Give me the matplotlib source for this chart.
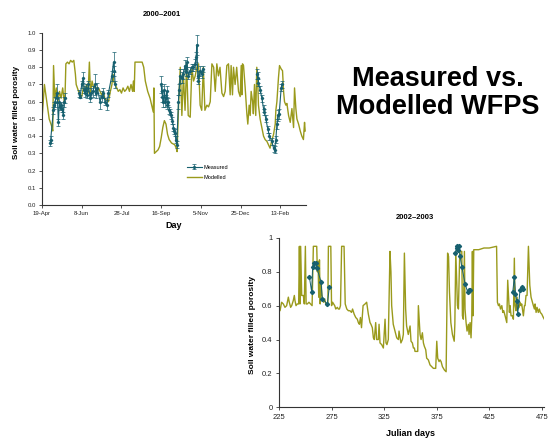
import numpy as np
import matplotlib
matplotlib.use("Agg")
import matplotlib.pyplot as plt

plt.rcParams['font.family'] = ['Liberation Sans', 'DejaVu Sans']

# ---- 2000-2001 : days since 19-Apr-2000 ----
mod1_day = [0, 3, 6, 9, 12, 13.5, 14.5, 16, 18, 20, 22, 24, 26, 28, 29, 30, 32, 34, 36, 38, 40,
            42, 43, 46, 48, 50, 52, 54, 56, 58, 59.6, 61, 63, 65, 67, 69, 71, 73, 75, 77, 79, 81,
            83.6, 86, 88, 89, 90, 92, 94, 96, 98, 100, 102, 104, 106, 108, 110, 112, 114, 115, 116,
            117, 126, 128, 130, 133, 136, 138, 140, 140.8, 141.5, 146, 148, 150, 152, 154, 156, 158,
            160, 163, 167, 169, 170, 172, 174, 176, 178, 180, 182, 184, 186.5, 188.6, 190.7, 192.8,
            194.9, 197, 199, 201, 203, 205, 207.5, 209.6, 211.7, 213.8, 216, 218, 220, 222, 224,
            226.4, 228.5, 230.5, 232.6, 234.7, 236.8, 238, 239.7, 241, 243, 245, 247.3, 249.4,
            250.7, 251.5, 252.3, 253.6, 255.7, 257.8, 259, 260.7, 262, 263.2, 265, 266, 267.4, 269,
            270.3, 271.6, 272.4, 274.5, 276.7, 278.8, 280.8, 283, 285, 287, 289, 291.4, 293.5,
            294.3, 295.6, 297.6, 298.9, 301, 302.7, 304, 305.2, 306.9, 308.2, 310.3, 312.4, 314.5,
            316.6, 317.8, 319.5, 320.8, 322.9, 325, 327, 329, 330.4, 331.2]
mod1_wfps = [0.50, 0.70, 0.60, 0.50, 0.46, 0.43, 0.81, 0.62, 0.68, 0.60, 0.66, 0.62, 0.68, 0.60, 0.64,
             0.82, 0.83, 0.82, 0.84, 0.83, 0.84, 0.76, 0.70, 0.66, 0.64, 0.63, 0.68, 0.66, 0.70, 0.65,
             0.83, 0.65, 0.72, 0.68, 0.70, 0.65, 0.68, 0.66, 0.64, 0.66, 0.62, 0.61, 0.60, 0.66, 0.70,
             0.76, 0.72, 0.70, 0.68, 0.66, 0.67, 0.65, 0.68, 0.66, 0.67, 0.69, 0.66, 0.70, 0.66, 0.72,
             0.66, 0.83, 0.83, 0.80, 0.72, 0.66, 0.62, 0.58, 0.54, 0.68, 0.30, 0.32, 0.34, 0.39, 0.45,
             0.49, 0.47, 0.41, 0.38, 0.36, 0.35, 0.33, 0.31, 0.60, 0.80, 0.52, 0.75, 0.55, 0.82, 0.52,
             0.51, 0.80, 0.72, 0.75, 0.80, 0.82, 0.58, 0.55, 0.80, 0.55, 0.58, 0.57, 0.60, 0.82, 0.80,
             0.66, 0.82, 0.75, 0.80, 0.65, 0.63, 0.66, 0.81, 0.82, 0.64, 0.81, 0.64, 0.80, 0.70, 0.80,
             0.66, 0.63, 0.81, 0.64, 0.82, 0.81, 0.68, 0.53, 0.47, 0.58, 0.52, 0.66, 0.60, 0.53, 0.70,
             0.52, 0.80, 0.70, 0.58, 0.50, 0.45, 0.40, 0.38, 0.37, 0.35, 0.33, 0.37, 0.41, 0.47, 0.55,
             0.60, 0.74, 0.81, 0.79, 0.78, 0.66, 0.60, 0.58, 0.59, 0.52, 0.48, 0.56, 0.45, 0.68, 0.56,
             0.50, 0.47, 0.43, 0.40, 0.38, 0.48, 0.43]

# measured campaigns (day, wfps, error)
meas1_day = [10, 10.9, 14.3, 15, 16.4, 18.5, 19.3, 20.6, 21.8, 22.7, 24, 25, 26.9, 27.7, 29]
meas1_wfps = [0.36, 0.38, 0.55, 0.58, 0.60, 0.65, 0.62, 0.48, 0.60, 0.57, 0.58, 0.56, 0.52, 0.60, 0.62]
meas1_err = [0.02, 0.02, 0.02, 0.02, 0.03, 0.05, 0.03, 0.02, 0.03, 0.02, 0.02, 0.02, 0.02, 0.03, 0.03]

meas2_day = [46.6, 47.9, 50, 52, 53, 54, 55.4, 57, 58.4, 60.5, 61.7, 63.8, 66.8, 68, 69.7, 73, 75,
             77, 79.4, 81.5, 83.6, 87.8, 90, 91, 92]
meas2_wfps = [0.65, 0.63, 0.70, 0.74, 0.67, 0.65, 0.68, 0.64, 0.70, 0.62, 0.65, 0.66, 0.70, 0.65,
              0.68, 0.60, 0.63, 0.65, 0.60, 0.58, 0.65, 0.75, 0.83, 0.78, 0.70]
meas2_err = [0.02, 0.01, 0.02, 0.03, 0.02, 0.02, 0.02, 0.02, 0.02, 0.02, 0.03, 0.03, 0.06, 0.03,
             0.03, 0.04, 0.03, 0.03, 0.02, 0.03, 0.02, 0.03, 0.06, 0.03, 0.02]

meas3_day = [150, 150.7, 151.6, 152.8, 154, 154.9, 155.8, 157, 157.9, 159, 160, 161.2, 162.5, 164.1,
             165.4, 166.6, 167.5, 168.3, 169.6, 171.7, 172.5, 173.8, 175.9, 178, 180, 181.4, 182.2,
             184.3, 186.4, 188.5, 190.6, 192.7, 194, 194.8, 196, 196.9, 199, 201, 202.3]
meas3_wfps = [0.70, 0.66, 0.63, 0.60, 0.67, 0.60, 0.62, 0.66, 0.58, 0.60, 0.55, 0.54, 0.52, 0.49,
              0.45, 0.43, 0.42, 0.38, 0.35, 0.60, 0.67, 0.75, 0.74, 0.76, 0.81, 0.77, 0.83, 0.75,
              0.78, 0.80, 0.80, 0.82, 0.86, 0.93, 0.75, 0.72, 0.78, 0.76, 0.79]
meas3_err = [0.05, 0.03, 0.03, 0.03, 0.03, 0.03, 0.02, 0.03, 0.02, 0.02, 0.02, 0.02, 0.02, 0.02,
             0.02, 0.02, 0.02, 0.02, 0.02, 0.04, 0.03, 0.04, 0.03, 0.03, 0.03, 0.02, 0.03, 0.02,
             0.02, 0.02, 0.02, 0.03, 0.03, 0.06, 0.03, 0.02, 0.03, 0.02, 0.02]

meas4_day = [270.3, 271.6, 272.4, 274.5, 276.7, 278.8, 280, 281.7, 284.2, 286.3, 289.2, 291.4,
             292.6, 294.3, 295.6, 296.8, 298.5, 301, 301.8]
meas4_wfps = [0.76, 0.74, 0.71, 0.67, 0.62, 0.56, 0.54, 0.50, 0.44, 0.40, 0.37, 0.33, 0.32, 0.38,
              0.47, 0.52, 0.53, 0.68, 0.70]
meas4_err = [0.03, 0.03, 0.02, 0.02, 0.02, 0.02, 0.02, 0.02, 0.02, 0.02, 0.02, 0.02, 0.02, 0.02,
             0.03, 0.03, 0.03, 0.02, 0.02]

ticks1 = [0, 50, 100, 150, 200, 250, 300]
ticklabels1 = ['19-Apr', '8-Jun', '28-Jul', '16-Sep', '5-Nov', '25-Dec', '13-Feb']

# ---- 2002-2003 : julian days (10 values per row) ----
mod2_jd = [225, 226, 227.5, 229.1, 230.7, 232.3, 233.9, 234.8, 236.1, 237.1,
           238.6, 239.6, 240.2, 241.2, 242.4, 243.7, 244.4, 245, 245.6, 246.6,
           248.2, 249.1, 250.1, 250.8, 252, 253.5, 255, 256.5, 257.7, 260.9,
           261.5, 262.2, 262.8, 263.5, 264.2, 265, 265.8, 266.6, 267.4, 268.5,
           269.5, 270.5, 271.5, 272, 274.3, 275, 276, 277, 278, 279,
           280.5, 281.5, 282.5, 283.5, 284.6, 285.4, 286.9, 288, 289.5, 291,
           292.5, 294, 295, 296.5, 298, 299.5, 300.5, 301.5, 302.5, 303.5,
           305, 306.9, 308.4, 310, 311.6, 312.5, 313.8, 314.8, 315.7, 317,
           317.9, 319.5, 320.2, 321.1, 322.7, 324.3, 325.9, 326.8, 327.7, 329,
           330.6, 331.5, 332.2, 333.7, 335.4, 337, 338.6, 339.2, 340.2, 341,
           342.4, 343.3, 344.3, 345.5, 346.4, 348, 349.7, 350.6, 351.9, 352.9,
           353.8, 354.4, 356, 357, 357.6, 358.6, 359.2, 360.2, 361.4, 362.4,
           363.3, 364.6, 365.5, 367.1, 368.7, 370.3, 371.9, 373.5, 374.1, 375.1,
           376, 377.3, 378.2, 379.2, 380.5, 382.4, 384, 385.4, 386.3, 387.2,
           388.5, 390, 391.7, 392.3, 393.2, 394.8, 395.7, 397, 398.9, 399.5,
           400.4, 401.4, 402, 403, 403.9, 405.2, 405.8, 406.8, 407.7, 408.4,
           409, 409.6, 410.3, 411, 415, 420, 425, 432, 432.8, 433.8,
           434.7, 435.7, 437, 437.9, 438.8, 440.1, 441.7, 442.6, 443.2, 444.2,
           444.8, 445.8, 447, 448, 448.9, 449.6, 450.5, 451.5, 452.1, 453.4,
           454.3, 455.3, 455.9, 457.5, 458.5, 459.1, 460, 461, 462.3, 463.6,
           464.8, 466.1, 467, 468, 468.6, 469.6, 470.5, 471.7, 472.7, 473.6,
           475, 476.5, 477.4]
mod2_wfps = [0.58, 0.57, 0.62, 0.61, 0.59, 0.60, 0.65, 0.62, 0.59, 0.60,
             0.63, 0.66, 0.63, 0.60, 0.61, 0.61, 0.95, 0.61, 0.95, 0.66,
             0.66, 0.61, 0.95, 0.61, 0.61, 0.62, 0.61, 0.60, 0.95, 0.95,
             0.80, 0.86, 0.65, 0.87, 0.61, 0.75, 0.66, 0.64, 0.62, 0.64,
             0.61, 0.60, 0.61, 0.95, 0.95, 0.60, 0.62, 0.61, 0.60, 0.58,
             0.59, 0.58, 0.58, 0.60, 0.95, 0.95, 0.95, 0.61, 0.58, 0.57,
             0.57, 0.56, 0.58, 0.55, 0.53, 0.52, 0.50, 0.49, 0.53, 0.47,
             0.60, 0.61, 0.62, 0.55, 0.50, 0.49, 0.47, 0.41, 0.40, 0.50,
             0.40, 0.40, 0.49, 0.38, 0.37, 0.35, 0.52, 0.38, 0.37, 0.40,
             0.92, 0.80, 0.60, 0.49, 0.45, 0.41, 0.40, 0.45, 0.41, 0.38,
             0.40, 0.43, 0.91, 0.58, 0.48, 0.43, 0.48, 0.39, 0.38, 0.35,
             0.35, 0.33, 0.33, 0.33, 0.60, 0.50, 0.43, 0.40, 0.44, 0.38,
             0.36, 0.34, 0.29, 0.28, 0.25, 0.24, 0.23, 0.23, 0.23, 0.39,
             0.29, 0.27, 0.28, 0.27, 0.24, 0.22, 0.21, 0.91, 0.89, 0.68,
             0.50, 0.43, 0.39, 0.49, 0.92, 0.60, 0.58, 0.92, 0.92, 0.54,
             0.52, 0.92, 0.58, 0.50, 0.45, 0.49, 0.43, 0.50, 0.41, 0.52,
             0.92, 0.54, 0.93, 0.93, 0.93, 0.94, 0.94, 0.95, 0.62, 0.60,
             0.61, 0.58, 0.60, 0.56, 0.57, 0.54, 0.50, 0.75, 0.68, 0.56,
             0.60, 0.54, 0.54, 0.52, 0.88, 0.60, 0.57, 0.65, 0.58, 0.59,
             0.62, 0.60, 0.61, 0.54, 0.60, 0.60, 0.66, 0.66, 0.95, 0.72,
             0.65, 0.62, 0.60, 0.58, 0.61, 0.56, 0.59, 0.56, 0.58, 0.56,
             0.55, 0.53, 0.52]

measA_jd = [253.9, 256.1, 257.0, 258.6, 259.9, 261.2, 265.0, 266.2, 271.0, 272.9]
measA_wfps = [0.77, 0.68, 0.83, 0.85, 0.85, 0.82, 0.74, 0.64, 0.61, 0.71]
measB_jd = [392.5, 394.0, 394.7, 395.7, 396.6, 397.3, 398.9, 402.0, 404.5, 405.8, 406.8]
measB_wfps = [0.91, 0.94, 0.95, 0.93, 0.95, 0.89, 0.83, 0.73, 0.68, 0.69, 0.69]
measC_jd = [447.4, 448.9, 450.0, 451.1, 452.1, 454.3, 455.9, 457.5]
measC_wfps = [0.68, 0.77, 0.67, 0.63, 0.55, 0.69, 0.71, 0.70]

OLIVE = '#9a9a1c'
TEAL = '#17606f'

fig = plt.figure(figsize=(5.53, 4.38), dpi=100)


def style(ax, fs):
    for s in ['top', 'right']:
        ax.spines[s].set_visible(False)
    for s in ['left', 'bottom']:
        ax.spines[s].set_linewidth(0.8)
        ax.spines[s].set_color('#333333')
    ax.tick_params(direction='out', length=2.5, width=0.6, labelsize=fs, pad=2, colors='#333333',
                   labelcolor='#222222')


# top chart
ax1 = fig.add_axes([0.076, 0.532, 0.477, 0.393])
ax1.plot(mod1_day, mod1_wfps, color=OLIVE, lw=1.0, label='Modelled', zorder=2)
first = True
for d, v, e in [(meas1_day, meas1_wfps, meas1_err), (meas2_day, meas2_wfps, meas2_err),
                (meas3_day, meas3_wfps, meas3_err), (meas4_day, meas4_wfps, meas4_err)]:
    ax1.errorbar(d, v, yerr=e, color=TEAL, lw=0.8, marker='D', ms=1.2, elinewidth=0.5,
                 capsize=1.2, capthick=0.5, label='Measured' if first else None, zorder=3)
    first = False
ax1.set_xlim(0, 332)
ax1.set_ylim(0, 1)
ax1.set_yticks(np.arange(0, 1.01, 0.1))
ax1.set_yticklabels(['%.1f' % t for t in np.arange(0, 1.01, 0.1)])
ax1.set_xticks(ticks1)
ax1.set_xticklabels(ticklabels1)
style(ax1, 4.3)
h, l = ax1.get_legend_handles_labels()
ax1.legend(h[::-1], l[::-1], loc='upper left', bbox_to_anchor=(0.55, 0.235), frameon=False,
           fontsize=4, handlelength=2.6, labelspacing=1.0, borderpad=0, borderaxespad=0,
           handletextpad=0.3)
fig.text(162 / 553, 1 - 15 / 438, '2000\u20132001', ha='center', va='center', fontsize=5.5,
         fontweight='bold')
fig.text(17 / 553, 1 - 112 / 438, 'Soil water filled porosity', rotation=90, ha='center',
         va='center', fontsize=5.8, fontweight='bold')
fig.text(174 / 553, 1 - 226 / 438, 'Day', ha='center', va='center', fontsize=6.5,
         fontweight='bold')

# bottom chart
ax2 = fig.add_axes([0.5045, 0.070, 0.479, 0.387])
ax2.plot(mod2_jd, mod2_wfps, color=OLIVE, lw=1.0, zorder=2)
for d, v in [(measA_jd, measA_wfps), (measB_jd, measB_wfps), (measC_jd, measC_wfps)]:
    ax2.plot(d, v, color=TEAL, lw=0.7, marker='D', ms=2.1, zorder=3)
ax2.set_xlim(225, 477)
ax2.set_ylim(0, 1)
ax2.set_xticks([225, 275, 325, 375, 425, 475])
ax2.set_yticks([0, 0.2, 0.4, 0.6, 0.8, 1.0])
ax2.set_yticklabels(['0', '0.2', '0.4', '0.6', '0.8', '1'])
style(ax2, 5.5)
fig.text(415 / 553, 1 - 218 / 438, '2002\u20132003', ha='center', va='center', fontsize=5.5,
         fontweight='bold')
fig.text(253 / 553, 1 - 325 / 438, 'Soil water filled porosity', rotation=90, ha='center',
         va='center', fontsize=6, fontweight='bold')
fig.text(411 / 553, 1 - 433 / 438, 'Julian days', ha='center', va='center', fontsize=6.5,
         fontweight='bold')

fig.text(438 / 553, 1 - 93 / 438, 'Measured vs.\nModelled WFPS', ha='center', va='center',
         fontsize=19.5, fontweight='bold', linespacing=1.07)

fig.savefig('out.png', dpi=100)
